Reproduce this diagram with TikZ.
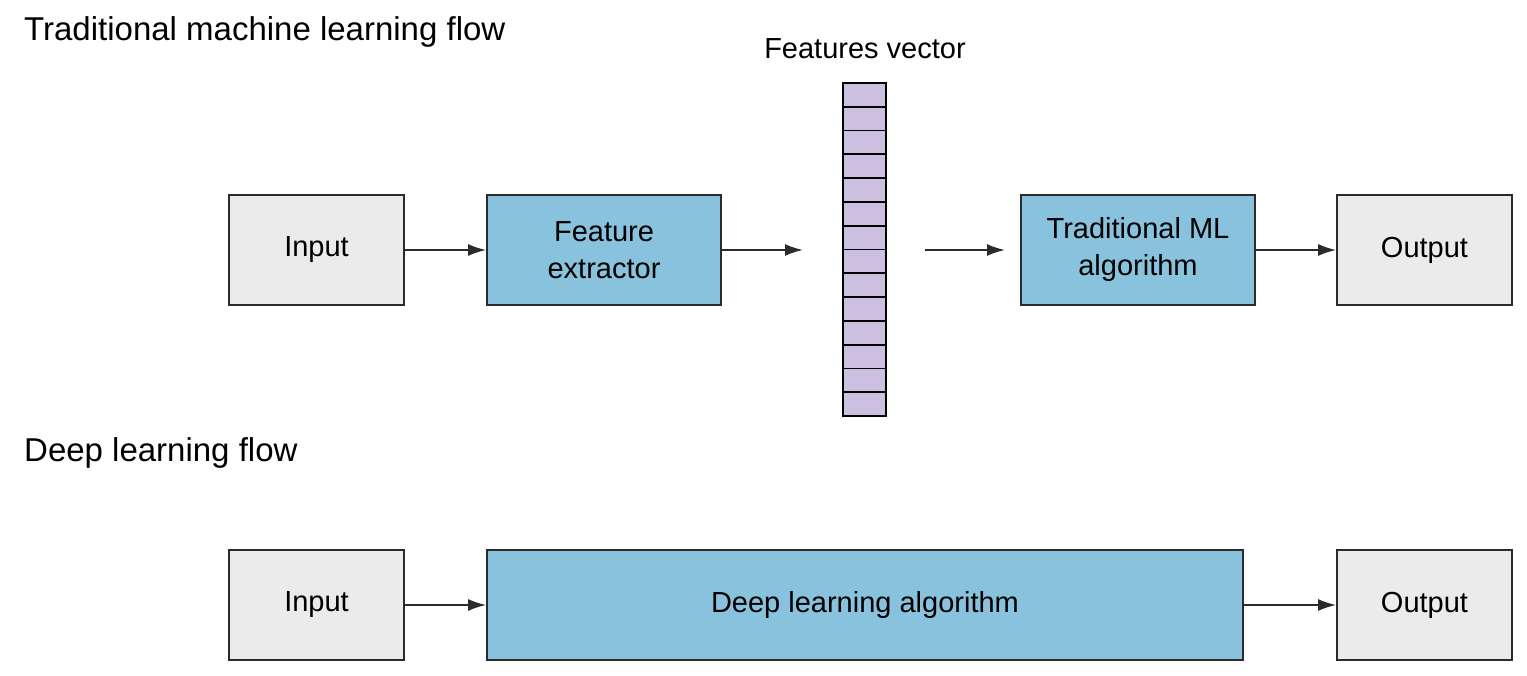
\documentclass[tikz,border=0pt]{standalone}
\usepackage{fontspec}
\setmainfont{Liberation Sans}
\usetikzlibrary{arrows.meta}
\definecolor{greyfill}{HTML}{EBEBEB}
\definecolor{bluefill}{HTML}{89C2DD}
\definecolor{purplefill}{HTML}{CBC0E0}
\definecolor{edge}{HTML}{2B2B2B}
\begin{document}
\begin{tikzpicture}[x=1pt,y=-1pt,
  box/.style={draw=edge,line width=1.8pt,minimum width=175pt,minimum height=110pt,inner sep=0pt,align=center,font=\fontsize{29}{37}\selectfont},
  greybox/.style={box,fill=greyfill},
  bluebox/.style={box,fill=bluefill,minimum width=234pt},
  cell/.style={draw=black,line width=1.8pt,fill=purplefill,minimum width=43pt,minimum height=23.8pt,inner sep=0pt},
  conn/.style={draw=edge,line width=1.8pt,-{Latex[length=18pt,width=12pt]}},
  title/.style={anchor=base west,inner sep=0pt,font=\fontsize{33}{38}\selectfont}]
\useasboundingbox (0,0) rectangle (1527,676);
\node[title] (t1) at (24,41) {Traditional machine learning flow};
\node[title] (t2) at (24,461) {Deep learning flow};
\node[anchor=base,inner sep=0pt,font=\fontsize{29}{34}\selectfont] (fvl) at (865,59) {Features vector};
% top row
\node[greybox] (in1) at (316.5,250) {Input};
\node[bluebox] (fe) at (604,250) {Feature\\extractor};
\node[bluebox] (tml) at (1138,250) {Traditional ML\\algorithm};
\node[greybox] (out1) at (1424.5,250) {Output};
\foreach \i in {0,...,13}{
  \node[cell] (c\i) at (864.5,{94.9+23.8*\i}) {};
}
\coordinate (fvin) at (803,250);
\coordinate (fvout) at (925,250);
\coordinate (tmlin) at (1005,250);
\draw[conn] (in1.east) -- (fe.west);
\draw[conn] (fe.east) -- (fvin);
\draw[conn] (fvout) -- (tmlin);
\draw[conn] (tml.east) -- (out1.west);
% bottom row
\node[greybox] (in2) at (316.5,605) {Input};
\node[bluebox,minimum width=756pt] (dl) at (865,605) {Deep learning algorithm};
\node[greybox] (out2) at (1424.5,605) {Output};
\draw[conn] (in2.east) -- (dl.west);
\draw[conn] (dl.east) -- (out2.west);
\end{tikzpicture}
\end{document}
